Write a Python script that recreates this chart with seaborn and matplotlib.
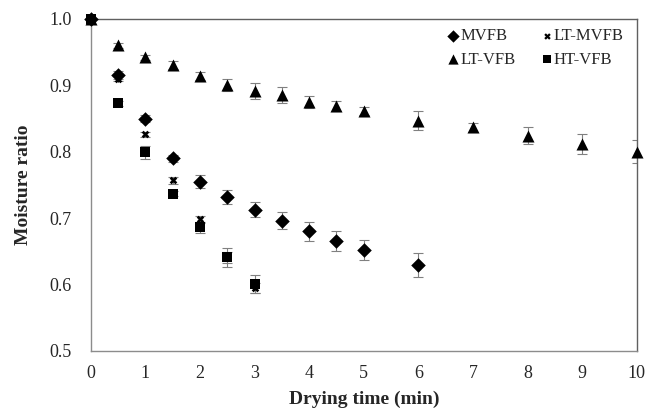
import numpy as np
import pandas as pd
import matplotlib
matplotlib.use("Agg")
import matplotlib.pyplot as plt
import seaborn as sns

# Data
t_mvfb = [0, 0.5, 1, 1.5, 2, 2.5, 3, 3.5, 4, 4.5, 5, 6]
mr_mvfb = [1.0, 0.915, 0.850, 0.790, 0.755, 0.732, 0.713, 0.696, 0.680, 0.665, 0.652, 0.630]
err_mvfb = [0.0, 0.006, 0.005, 0.005, 0.010, 0.011, 0.011, 0.013, 0.014, 0.015, 0.015, 0.018]

t_ltmvfb = [0, 0.5, 1, 1.5, 2, 2.5, 3]
mr_ltmvfb = [1.0, 0.910, 0.826, 0.757, 0.698, 0.641, 0.595]
err_ltmvfb = [0.0, 0.004, 0.004, 0.005, 0.006, 0.008, 0.007]

t_ltvfb = [0, 0.5, 1, 1.5, 2, 2.5, 3, 3.5, 4, 4.5, 5, 6, 7, 8, 9, 10]
mr_ltvfb = [1.0, 0.960, 0.942, 0.930, 0.914, 0.900, 0.891, 0.885, 0.875, 0.869, 0.862, 0.847, 0.837, 0.824, 0.812, 0.800]
err_ltvfb = [0.0, 0.004, 0.004, 0.006, 0.006, 0.009, 0.012, 0.012, 0.009, 0.007, 0.006, 0.014, 0.007, 0.013, 0.015, 0.017]

t_htvfb = [0, 0.5, 1, 1.5, 2, 2.5, 3]
mr_htvfb = [1.0, 0.873, 0.799, 0.737, 0.686, 0.641, 0.601]
err_htvfb = [0.0, 0.004, 0.010, 0.004, 0.008, 0.014, 0.013]

series = ["MVFB", "LT-MVFB", "LT-VFB", "HT-VFB"]
frames = []
for name, t, mr, e in [("MVFB", t_mvfb, mr_mvfb, err_mvfb),
                       ("LT-MVFB", t_ltmvfb, mr_ltmvfb, err_ltmvfb),
                       ("LT-VFB", t_ltvfb, mr_ltvfb, err_ltvfb),
                       ("HT-VFB", t_htvfb, mr_htvfb, err_htvfb)]:
    frames.append(pd.DataFrame({"t": t, "mr": mr, "err": e, "series": name}))
df = pd.concat(frames, ignore_index=True)

sns.set_style("white")
plt.rcParams["font.family"] = ["Liberation Serif", "DejaVu Serif"]

fig = plt.figure(figsize=(6.49, 4.11), dpi=100)
ax = fig.add_axes([0.140, 0.146, 0.841, 0.808])

# Error bars
for name in series:
    d = df[df.series == name]
    ax.errorbar(d.t, d.mr, yerr=d.err, fmt="none", ecolor="#808080",
                elinewidth=0.8, capsize=3.5, capthick=0.8, zorder=2)

markers = {"MVFB": "D", "LT-MVFB": "X", "LT-VFB": "^", "HT-VFB": "s"}
sizes = {"MVFB": 55, "LT-MVFB": 30, "LT-VFB": 75, "HT-VFB": 48}
for name in series:
    d = df[df.series == name]
    sns.scatterplot(data=d, x="t", y="mr", marker=markers[name], s=sizes[name],
                    color="black", edgecolor="black", linewidth=0,
                    label=name, ax=ax, zorder=3, clip_on=False, legend=True)

ax.set_xlim(0, 10)
ax.set_ylim(0.5, 1.0)
ax.set_xticks(range(0, 11))
ax.set_yticks([0.5, 0.6, 0.7, 0.8, 0.9, 1.0])
ax.set_yticklabels(["0.5", "0.6", "0.7", "0.8", "0.9", "1.0"])
ax.tick_params(axis="both", length=0, labelsize=13)
ax.tick_params(axis="y", pad=14)
ax.tick_params(axis="x", pad=10)
ax.set_xlabel("Drying time (min)", fontsize=14, fontweight="bold", labelpad=6)
ax.set_ylabel("Moisture ratio", fontsize=14, fontweight="bold", labelpad=12)

for side in ["left", "bottom"]:
    ax.spines[side].set_color("#8c8c8c")
    ax.spines[side].set_linewidth(1.0)
for side in ["top", "right"]:
    ax.spines[side].set_color("#606060")
    ax.spines[side].set_linewidth(1.0)

handles, labels = ax.get_legend_handles_labels()
hmap = dict(zip(labels, handles))
order = ["MVFB", "LT-VFB", "LT-MVFB", "HT-VFB"]
ax.legend([hmap[k] for k in order], order, loc="upper left", ncol=2,
          frameon=False, fontsize=12, handletextpad=0.0, handlelength=0.8,
          columnspacing=1.5, labelspacing=0.45, markerscale=0.85,
          borderpad=0.0, bbox_to_anchor=(0.652, 0.972), borderaxespad=0.0)

fig.savefig("out.png", dpi=100)
